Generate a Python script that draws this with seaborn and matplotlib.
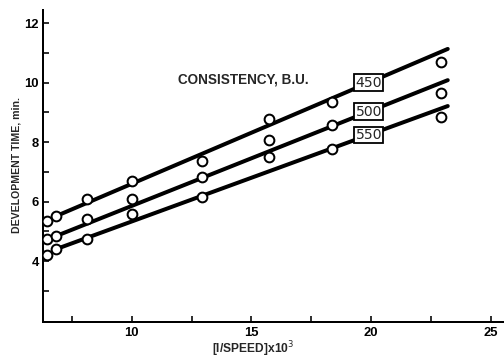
import numpy as np
import pandas as pd
import matplotlib
matplotlib.use("Agg")
import matplotlib.pyplot as plt
from matplotlib.ticker import FixedLocator
import seaborn as sns

# Measured points: reciprocal mixer speed (x1000) vs development time (min)
inv_speed = [6.48, 6.84, 8.13, 10.0, 12.94, 15.75, 18.38, 22.9]
time_450 = [5.34, 5.51, 6.08, 6.69, 7.36, 8.77, 9.34, 10.69]
time_500 = [4.74, 4.84, 5.41, 6.08, 6.82, 8.07, 8.57, 9.65]
time_550 = [4.20, 4.40, 4.74, 5.58, 6.15, 7.50, 7.76, 8.84]
consistency = ["450", "500", "550"]

# Fitted trend lines, given by their values at both ends
trend_x = [6.84, 23.2]
trend_450 = [5.51, 11.13]
trend_500 = [4.84, 10.08]
trend_550 = [4.40, 9.21]
label_x = 19.9

y_major = [4, 6, 8, 10, 12]
y_minor = [3, 5, 7, 9, 11]
x_major = [10, 15, 20, 25]
x_minor = [7.5, 12.5, 17.5, 22.5]

points = pd.DataFrame({
    "inv_speed": inv_speed * 3,
    "time": time_450 + time_500 + time_550,
    "bu": sum([[c] * len(inv_speed) for c in consistency], []),
})
trends = pd.DataFrame({
    "inv_speed": trend_x * 3,
    "time": trend_450 + trend_500 + trend_550,
    "bu": sum([[c] * len(trend_x) for c in consistency], []),
})

sns.set_style("ticks")
plt.rcParams["font.family"] = ["Liberation Sans", "DejaVu Sans"]

fig = plt.figure(figsize=(7, 5), dpi=72)
ax = fig.add_axes([0.0847, 0.1056, 0.9153, 0.8667])

black = {c: "black" for c in consistency}
sns.lineplot(data=trends, x="inv_speed", y="time", hue="bu", palette=black,
             linewidth=4, legend=False, ax=ax, zorder=2)
sns.scatterplot(data=points, x="inv_speed", y="time", hue="bu", palette=black,
                s=95, facecolor="white", linewidth=2, legend=False, ax=ax,
                zorder=3)
for coll in ax.collections:
    coll.set_facecolor("white")
    coll.set_edgecolor("black")

for name, ends in zip(consistency, [trend_450, trend_500, trend_550]):
    ax.text(label_x, np.interp(label_x, trend_x, ends), name,
            ha="center", va="center", fontsize=14, family="DejaVu Sans",
            zorder=4,
            bbox=dict(boxstyle="square,pad=0.1", fc="white", ec="black",
                      lw=1.8))

ax.text(0.434, 0.776, "CONSISTENCY, B.U.", transform=ax.transAxes,
        ha="center", va="center", fontsize=13.5, fontweight="bold")

ax.set_xlim(6.28, 25.55)
ax.set_ylim(1.95, 12.44)
ax.xaxis.set_major_locator(FixedLocator(x_major))
ax.xaxis.set_minor_locator(FixedLocator(x_minor))
ax.yaxis.set_major_locator(FixedLocator(y_major))
ax.yaxis.set_minor_locator(FixedLocator(y_minor))
ax.tick_params(which="both", direction="in", length=6, width=1.6,
               color="black", labelsize=13, labelcolor="black")
ax.tick_params(axis="x", which="major", pad=5)
ax.tick_params(axis="y", which="major", pad=4)
for lab in ax.get_xticklabels() + ax.get_yticklabels():
    lab.set_fontweight("bold")

ax.set_xlabel("[I/SPEED]x10$^3$", fontsize=12, fontweight="bold")
ax.set_ylabel("DEVELOPMENT TIME, min.", fontsize=10.5, fontweight="bold")
ax.xaxis.label.set_va("center")
ax.xaxis.set_label_coords(0.456, -0.088)
ax.yaxis.set_label_coords(-0.047, 0.503)

sns.despine(ax=ax)
for side in ["left", "bottom"]:
    ax.spines[side].set_linewidth(2)
    ax.spines[side].set_color("black")

fig.savefig("out.png", dpi=72, facecolor="white")
